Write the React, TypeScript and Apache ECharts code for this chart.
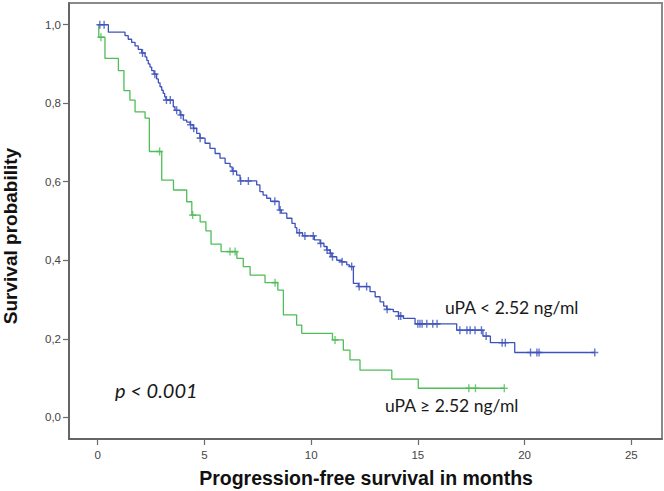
import React, { useEffect, useRef } from "react";
import * as echarts from "echarts";

// Axis ticks
const xTicks = [0, 5, 10, 15, 20, 25];
const yTicks = [0, 0.2, 0.4, 0.6, 0.8, 1.0];

// uPA < 2.52 ng/ml (blue) – event times (months) and survival after each event
const blueEventTimes = [
  0.5, 1.28, 1.43, 1.59, 1.75, 1.9, 2.06, 2.22, 2.3, 2.37, 2.45, 2.53, 2.64, 2.76, 2.84,
  2.92, 3.0, 3.07, 3.14, 3.2, 3.54, 3.62, 3.86, 4.01, 4.17, 4.33, 4.48, 4.64, 4.79, 5.03,
  5.26, 5.5, 5.73, 5.97, 6.2, 6.3, 6.51, 6.67, 7.45, 7.6, 7.75, 7.92, 8.1, 8.5, 8.6, 8.86,
  9.1, 9.25, 9.33, 9.6, 10.15, 10.42, 10.6, 10.73, 10.89, 10.97, 11.2, 11.43, 11.67, 11.8,
  11.98, 12.21, 12.76, 13.0, 13.23, 13.4, 13.54, 13.85, 14.09, 14.32, 14.87, 16.82, 18.05,
  18.4, 19.54,
];
const blueEventSurv = [
  0.981, 0.972, 0.963, 0.955, 0.946, 0.937, 0.928, 0.918, 0.909, 0.9, 0.892, 0.883, 0.874,
  0.862, 0.852, 0.842, 0.833, 0.825, 0.816, 0.808, 0.791, 0.782, 0.77, 0.757, 0.752, 0.745,
  0.736, 0.723, 0.711, 0.698, 0.685, 0.672, 0.66, 0.647, 0.638, 0.627, 0.617, 0.602, 0.592,
  0.575, 0.566, 0.558, 0.55, 0.528, 0.52, 0.507, 0.494, 0.483, 0.47, 0.462, 0.452, 0.443,
  0.435, 0.426, 0.418, 0.409, 0.4, 0.396, 0.388, 0.384, 0.341, 0.333, 0.32, 0.307, 0.294,
  0.283, 0.275, 0.269, 0.258, 0.252, 0.238, 0.222, 0.207, 0.19, 0.165,
];
const blueCensorTimes = [
  0.1, 0.3, 2.1, 2.68, 3.22, 3.4, 3.7, 3.9, 4.35, 4.5, 4.8, 6.35, 6.7, 7.06, 8.3, 8.55, 9.45,
  9.71, 10.1, 10.45, 10.75, 10.9, 11.0, 11.45, 11.9, 12.25, 12.6, 13.56, 14.1, 14.2, 15.0,
  15.1, 15.2, 15.42, 15.7, 15.9, 16.97, 17.3, 17.45, 17.68, 17.98, 18.2, 18.95, 19.1, 20.28,
  20.58, 20.68, 23.29,
];

// uPA ≥ 2.52 ng/ml (green)
const greenEventTimes = [
  0.05, 0.34, 0.97, 1.23, 1.51, 1.75, 2.22, 2.42, 3.0, 3.55, 4.17, 4.41, 4.8, 5.07, 5.31,
  5.78, 6.52, 6.82, 7.14, 7.84, 8.44, 8.7, 9.32, 9.56, 11.0, 11.51, 11.82, 12.29, 13.78,
  15.02,
];
const greenEventSurv = [
  0.968, 0.914, 0.883, 0.832, 0.808, 0.778, 0.762, 0.677, 0.604, 0.579, 0.549, 0.515, 0.498,
  0.475, 0.441, 0.422, 0.405, 0.384, 0.362, 0.343, 0.324, 0.261, 0.235, 0.214, 0.197, 0.171,
  0.146, 0.12, 0.097, 0.074,
];
const greenCensorTimes = [0.15, 2.9, 4.45, 6.2, 6.44, 8.31, 11.12, 17.39, 17.7, 19.05];

const BLUE = "#3d52bb";
const GREEN = "#4fbd58";
const PLUS = "path://M4,0H6V4H10V6H6V10H4V6H0V4H4Z";

function kmLine(times: number[], surv: number[], end: number) {
  const pts: number[][] = [[0, 1]];
  times.forEach((t, i) => pts.push([t, surv[i]]));
  pts.push([end, surv[surv.length - 1]]);
  return pts;
}
function survAt(times: number[], surv: number[], t: number) {
  let s = 1;
  for (let i = 0; i < times.length; i++) if (times[i] <= t) s = surv[i];
  return s;
}
function censorPts(ct: number[], times: number[], surv: number[]) {
  return ct.map((t) => [t, survAt(times, surv, t)]);
}

export default function App() {
  const ref = useRef<HTMLDivElement>(null);
  useEffect(() => {
    if (!ref.current) return;
    const chart = echarts.init(ref.current, undefined, { renderer: "svg" });
    const blueEnd = Math.max(...blueCensorTimes);
    const greenEnd = Math.max(...greenCensorTimes);
    const axisGray = "#6b6b6b";
    chart.setOption({
      animation: false,
      backgroundColor: "#ffffff",
      grid: {
        left: 69,
        right: 2,
        top: 3,
        bottom: 52,
        show: true,
        borderColor: "#8a8a8a",
        borderWidth: 2,
      },
      xAxis: {
        type: "value",
        min: -1.345,
        max: 26.44,
        axisLine: { show: true, onZero: false, lineStyle: { color: "#5a5a5a", width: 1.5 } },
        axisTick: {
          show: true,
          inside: false,
          length: 6,
          customValues: xTicks,
          lineStyle: { color: axisGray, width: 1.2 },
        },
        axisLabel: {
          customValues: xTicks,
          margin: 10,
          color: "#444",
          fontSize: 11.5,
          fontFamily: "Arial, 'Liberation Sans', sans-serif",
        },
        splitLine: { show: false },
      },
      yAxis: {
        type: "value",
        min: -0.0553,
        max: 1.0553,
        axisLine: { show: true, onZero: false, lineStyle: { color: "#5a5a5a", width: 1.5 } },
        axisTick: {
          show: true,
          inside: false,
          length: 6,
          customValues: yTicks,
          lineStyle: { color: axisGray, width: 1.2 },
        },
        axisLabel: {
          customValues: yTicks,
          margin: 8,
          color: "#444",
          fontSize: 11.5,
          fontFamily: "Arial, 'Liberation Sans', sans-serif",
          formatter: (v: number) => v.toFixed(1).replace(".", ","),
        },
        splitLine: { show: false },
      },
      series: [
        {
          type: "line",
          step: "end",
          data: kmLine(blueEventTimes, blueEventSurv, blueEnd),
          showSymbol: false,
          lineStyle: { color: BLUE, width: 1.3 },
          z: 3,
        },
        {
          type: "scatter",
          data: censorPts(blueCensorTimes, blueEventTimes, blueEventSurv),
          symbol: PLUS,
          symbolSize: [7, 8],
          itemStyle: { color: BLUE },
          z: 4,
        },
        {
          type: "line",
          step: "end",
          data: kmLine(greenEventTimes, greenEventSurv, greenEnd),
          showSymbol: false,
          lineStyle: { color: GREEN, width: 1.3 },
          z: 3,
        },
        {
          type: "scatter",
          data: censorPts(greenCensorTimes, greenEventTimes, greenEventSurv),
          symbol: PLUS,
          symbolSize: [7, 8],
          itemStyle: { color: GREEN },
          z: 4,
        },
      ],
      graphic: [
        {
          type: "text",
          x: 10,
          y: 236,
          rotation: Math.PI / 2,
          style: {
            text: "Survival probability",
            fontSize: 19,
            fontWeight: "bold",
            fontFamily: "Arial, 'Liberation Sans', sans-serif",
            fill: "#111",
            textAlign: "center",
            textVerticalAlign: "middle",
          },
        },
        {
          type: "text",
          x: 366,
          y: 478,
          style: {
            text: "Progression-free survival in months",
            fontSize: 19.5,
            fontWeight: "bold",
            fontFamily: "Arial, 'Liberation Sans', sans-serif",
            fill: "#111",
            textAlign: "center",
            textVerticalAlign: "middle",
          },
        },
        {
          type: "text",
          x: 445,
          y: 307,
          style: {
            text: "uPA < 2.52 ng/ml",
            fontSize: 17.5,
            fontFamily: "Lato, 'Open Sans', sans-serif",
            fill: "#1a1a1a",
            textAlign: "left",
            textVerticalAlign: "middle",
          },
        },
        {
          type: "text",
          x: 385,
          y: 405,
          style: {
            text: "uPA ≥ 2.52 ng/ml",
            fontSize: 17.5,
            fontFamily: "Lato, 'Open Sans', sans-serif",
            fill: "#1a1a1a",
            textAlign: "left",
            textVerticalAlign: "middle",
          },
        },
        {
          type: "text",
          x: 115,
          y: 390,
          style: {
            text: "p < 0.001",
            fontSize: 20,
            fontStyle: "italic",
            fontFamily: "Lato, 'Open Sans', sans-serif",
            fill: "#1a1a1a",
            textAlign: "left",
            textVerticalAlign: "middle",
          },
        },
      ],
    });
    return () => chart.dispose();
  }, []);
  return (
    <div
      ref={ref}
      style={{ position: "absolute", left: 0, top: 0, width: 664, height: 491 }}
    />
  );
}
